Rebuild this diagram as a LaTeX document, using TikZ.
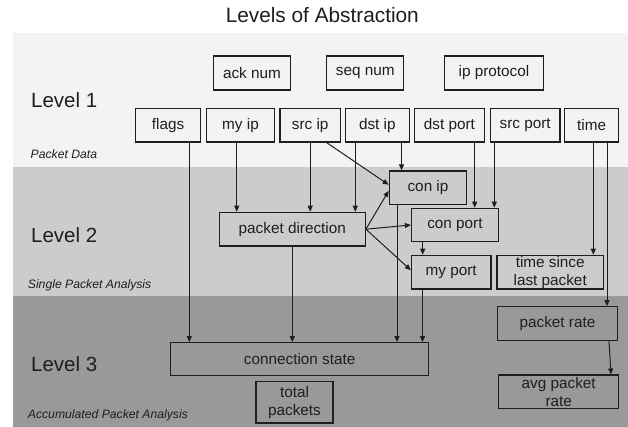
\documentclass[tikz,border=0pt]{standalone}
\usepackage{fontspec}
\setmainfont{Liberation Sans}
\usetikzlibrary{arrows.meta}
\definecolor{bandA}{HTML}{F3F3F3}
\definecolor{bandB}{HTML}{CCCCCC}
\definecolor{bandC}{HTML}{999999}
\definecolor{ink}{HTML}{1E1E1E}
\begin{document}
\begin{tikzpicture}[x=1pt,y=-1pt,
  box/.style={draw=ink, line width=1.2pt, inner sep=0pt, font=\fontsize{15.3}{18.3}\selectfont, text=ink, align=center},
  arr/.style={draw=ink, line width=1pt, -{Triangle[length=6pt,width=5pt]}},
  plain/.style={draw=ink, line width=1pt},
  lvl/.style={font=\fontsize{20.5}{24}\selectfont, anchor=base west, inner sep=0pt, text=ink},
  sub/.style={font=\fontsize{12.2}{14}\selectfont\itshape, anchor=base west, inner sep=0pt, text=ink},
]
\useasboundingbox (0,0) rectangle (628,427);
\fill[white] (0,0) rectangle (628,427);
\fill[bandA] (12.7,32.7) rectangle (628,166.7);
\fill[bandB] (12.7,166.7) rectangle (628,296);
\fill[bandC] (12.7,296) rectangle (628,427);

% title and labels
\node[font=\fontsize{20.8}{24}\selectfont, anchor=base, inner sep=0pt, text=ink] (title) at (322.3,23) {Levels of Abstraction};
\node[lvl] (l1) at (31,107.3) {Level 1};
\node[lvl] (l2) at (31,242.5) {Level 2};
\node[lvl] (l3) at (31,371.7) {Level 3};
\node[sub] (s1) at (30.5,159) {Packet Data};
\node[sub] (s2) at (27.7,288.3) {Single Packet Analysis};
\node[sub] (s3) at (27.7,418.3) {Accumulated Packet Analysis};

% level 1
\node[box, minimum width=77.4, minimum height=34] (ack) at (252,73) {ack num};
\node[box, minimum width=77, minimum height=34] (seq) at (365.2,73) {seq num};
\node[box, minimum width=98.6, minimum height=34] (ipproto) at (494,73) {ip protocol};
\node[box, minimum width=65.2, minimum height=33.7] (flags) at (168.1,125.2) {flags};
\node[box, minimum width=68.4, minimum height=33.7] (myip) at (240.5,125.2) {my ip};
\node[box, minimum width=60.3, minimum height=33.7] (srcip) at (310.2,125.2) {src ip};
\node[box, minimum width=64, minimum height=33.7] (dstip) at (377.3,125.2) {dst ip};
\node[box, minimum width=69.8, minimum height=33.7] (dstport) at (449.4,125.2) {dst port};
\node[box, minimum width=69.7, minimum height=33.7] (srcport) at (525.2,125.2) {src port};
\node[box, minimum width=53.8, minimum height=33.7] (time) at (591.6,125.2) {time};

% level 2
\node[box, minimum width=77.4, minimum height=33.7] (conip) at (428,187.8) {con ip};
\node[box, minimum width=146, minimum height=33.7] (pd) at (292.3,229.2) {packet direction};
\node[box, minimum width=86.8, minimum height=33.4] (conport) at (454.9,225) {con port};
\node[box, minimum width=79.5, minimum height=33.7] (myport) at (451.2,272.2) {my port};
\node[box, minimum width=106.5, minimum height=33.7] (tsince) at (550.2,272.2) {time since\\last packet};

% level 3
\node[box, minimum width=258, minimum height=32.8] (cstate) at (299.7,359.1) {connection state};
\node[box, minimum width=77, minimum height=41.3] (total) at (294.5,402.3) {total\\packets};
\node[box, minimum width=120.4, minimum height=33.6] (prate) at (557.5,323.5) {packet rate};
\node[box, minimum width=120, minimum height=33.3] (avgrate) at (558.7,391.7) {avg packet\\rate};

% connectors
\draw[arr] ([xshift=21.2]flags.south) -- ([xshift=21.2]flags.south |- cstate.north);
\draw[arr] ([xshift=-3.8]myip.south) -- ([xshift=-3.8]myip.south |- pd.north);
\draw[arr] (srcip.south) -- (srcip.south |- pd.north);
\draw[arr] ([xshift=-22]dstip.south) -- ([xshift=-22]dstip.south |- pd.north);
\draw[arr] ([xshift=16.5]srcip.south) -- ([yshift=3]conip.west);
\draw[arr] ([xshift=24.2]dstip.south) -- ([xshift=24.2]dstip.south |- conip.north);
\draw[arr] (pd.east) -- ([yshift=-3]conip.west);
\draw[arr] (pd.east) -- (conport.west);
\draw[arr] (pd.east) -- ([yshift=2]myport.west);
\draw[arr] ([xshift=25.3]dstport.south) -- ([xshift=25.3]dstport.south |- conport.north);
\draw[arr] ([xshift=-30.9]srcport.south) -- ([xshift=-30.9]srcport.south |- conport.north);
\draw[arr] ([xshift=-32.2]conport.south) -- ([xshift=-32.2]conport.south |- myport.north);
\draw[arr] (pd.south) -- (pd.south |- cstate.north);
\draw[arr] ([xshift=-31]conip.south) -- ([xshift=-31]conip.south |- cstate.north);
\draw[arr] ([xshift=-28.7]myport.south) -- ([xshift=-28.7]myport.south |- cstate.north);
\draw[arr] ([xshift=1.7]time.south) -- ([xshift=1.7]time.south |- tsince.north);
\draw[arr] ([xshift=15.4]time.south) -- ([xshift=15.4]time.south |- prate.north);
\draw[arr] ([xshift=51.5]prate.south) -- ([xshift=52.3]avgrate.north);
\end{tikzpicture}
\end{document}
